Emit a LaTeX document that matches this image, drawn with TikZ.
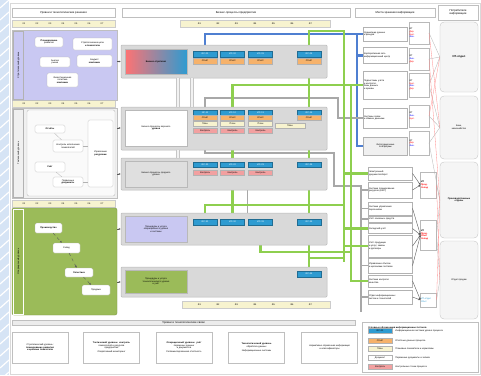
\documentclass[tikz,border=0pt]{standalone}
\usepackage{fontspec}
\setmainfont{Liberation Sans}
\usetikzlibrary{arrows.meta, positioning, calc}
\pgfdeclarelayer{background}
\pgfsetlayers{background,main}

\definecolor{bandgray}{HTML}{D9D9D9}
\definecolor{lavend}{HTML}{C9C8F2}
\definecolor{leaf}{HTML}{9BBB59}
\definecolor{paleyel}{HTML}{F7F3CF}
\definecolor{tagblue}{HTML}{2E9BD1}
\definecolor{tagorng}{HTML}{F6B26B}
\definecolor{tagpink}{HTML}{F2A0A0}
\definecolor{flowb}{HTML}{4F7FD1}
\definecolor{flowg}{HTML}{8ECF4F}
\definecolor{flowk}{HTML}{A8A8A8}
\definecolor{edgeblue}{HTML}{D6E4F5}

\newcommand{\ftxt}{\fontsize{2.3}{2.7}\selectfont}
\newcommand{\fhdr}{\fontsize{2.8}{3.2}\selectfont}

\begin{document}
\begin{tikzpicture}[
    x=1pt, y=-1pt,
    sz/.style 2 args={minimum width=#1pt, minimum height=#2pt},
    cell/.style={draw=gray!60, line width=0.3pt, inner sep=0.4pt, align=center, font=\ftxt},
    hdr/.style={cell, fill=white, draw=gray!50, font=\fhdr},
    yrow/.style={cell, fill=paleyel, draw=gray!40},
    panel/.style={draw=gray!50, line width=0.4pt},
    strip/.style={draw=gray!60, line width=0.3pt, font=\ftxt, rotate=90, inner sep=0pt},
    wbox/.style={cell, fill=white, rounded corners=1.5pt},
    band/.style={draw=gray!55, fill=bandgray, line width=0.5pt, rounded corners=1pt},
    lbl/.style={cell, draw=gray!55, line width=0.4pt},
    tagb/.style={cell, fill=tagblue, text=white, sz={24}{6}, draw=tagblue!70!black},
    tago/.style={cell, fill=tagorng, sz={24}{6}},
    tagp/.style={cell, fill=tagpink, sz={24}{5}},
    tagl/.style={cell, fill=paleyel, sz={24}{5}},
    flowblue/.style={flowb, line width=2.4pt},
    flowgreen/.style={flowg, line width=2.4pt},
    flowgray/.style={flowk, line width=1.8pt},
    fat/.style={draw=gray!45, double=gray!10, double distance=2.2pt, line width=0.5pt},
    arr/.style={-{Latex[length=2pt,width=2pt]}, gray!70!black, line width=0.4pt},
    feed/.style={gray!60, line width=0.3pt},
    feedr/.style={red!45, line width=0.3pt},
    rbox/.style={cell, fill=white, text width=43pt, align=left},
    qtag/.style={cell, fill=white, draw=gray!55, align=left, text width=19pt},
    fpanel/.style={cell, fill=gray!8, draw=gray!50, rounded corners=4pt, sz={38}{10}},
    dbox/.style={cell, fill=white, draw=gray!50, sz={56}{31}, text width=52pt}
  ]
  \useasboundingbox (0,0) rectangle (481,375);
  \begin{pgfonlayer}{background}
    \fill[white] (0,0) rectangle (481,375);
    \fill[edgeblue] (0,0) rectangle (9,375);
    \foreach \k in {0,12,...,372} \draw[white, line width=1.2pt] (0,\k+8) -- (9,\k);
    \draw[gray!30, line width=0.5pt] (10,3) rectangle (480,374);
  \end{pgfonlayer}

  % Headers
  \node[hdr, sz={103}{9}] (hlev) at (63.5,12.5) {Уровни и технологические решения};
  \node[hdr, sz={228}{9}] (hproc) at (236,12.5) {Бизнес-процессы предприятия};
  \node[hdr, sz={80}{9}] (hstore) at (395,12.5) {Места хранения информации};
  \node[hdr, sz={40}{15}] (huser) at (458,12.5) {Потребители\\информации};

  % Yellow rows
  \node[yrow, sz={103}{7}] (yl1) at (63.5,23.5) {};
  \node[yrow, sz={103}{7}] (yl2) at (63.5,104) {};
  \node[yrow, sz={103}{7}] (yl3) at (63.5,204) {};
  \node[yrow, sz={150}{7}] (ym1) at (255,23.5) {};
  \node[yrow, sz={148}{7}] (ym2) at (256,305) {};
  \foreach \k in {1,...,7} {
    \node[font=\ftxt] (ma\k) at (11+13*\k,23.5) {0\k};
    \node[font=\ftxt] (mb\k) at (11+13*\k,104) {0\k};
    \node[font=\ftxt] (mc\k) at (11+13*\k,204) {0\k};
    \node[font=\ftxt] (md\k) at (181+18.5*\k,23.5) {Ф\k};
    \node[font=\ftxt] (me\k) at (181+18.5*\k,305) {Ф\k};
  }

  % Left panels
  \node[panel, fill=lavend, sz={105}{70}] (lp1) at (64.5,65) {};
  \node[strip, fill=lavend, sz={68}{10}] (ls1) at (18.5,65) {Стратегический уровень};
  \node[panel, fill=gray!12, sz={105}{90}] (lp2) at (64.5,153) {};
  \node[panel, fill=gray!4, rounded corners=2pt, sz={88}{86}] (lp2in) at (71,153) {};
  \node[strip, fill=gray!12, sz={88}{10}] (ls2) at (18.5,153) {Тактический уровень};
  \node[panel, fill=leaf, draw=leaf!80!black, rounded corners=2pt, sz={105}{107}] (lp3) at (64.5,261.5) {};
  \node[strip, fill=leaf, draw=white, sz={105}{10}] (ls3) at (18.5,261.5) {Операционный уровень};

  % Panel 1 boxes
  \node[wbox, sz={28}{10}] (a1) at (49,42) {\bfseries Планирование\\развития};
  \node[wbox, sz={39}{12}] (a2) at (92.5,44) {Стратегические цели\\\bfseries и показатели};
  \node[wbox, sz={30}{10}] (a3) at (55,62) {Анализ\\рынка};
  \node[wbox, sz={35}{12}] (a4) at (94.5,61) {Бюджет\\\bfseries компании};
  \node[wbox, sz={31}{14}] (a5) at (62.5,80) {Инвестиционная\\политика\\\bfseries компании};

  % Panel 2 boxes
  \node[wbox, sz={30}{8}] (c1) at (50,129) {\bfseries Отчёты};
  \node[wbox, sz={30}{12}] (c2) at (68,146) {Контроль исполнения\\показателей};
  \node[wbox, sz={30}{10}] (c3) at (50,167) {\bfseries Учёт};
  \node[wbox, sz={30}{10}] (c4) at (68,182) {Первичные\\\bfseries документы};
  \node[wbox, sz={25}{67}] (c5) at (100.5,153.5) {Управление\\\bfseries ресурсами};
  \draw[feed] (c1) -- (c2);
  \draw[feed] (c3) -- (c4);
  \draw[feed] (c2.east) -- (c2.east -| c5.west);
  \draw[feed] (c4.east) -- (c4.east -| c5.west);

  % Panel 3 boxes
  \node[wbox, sz={27}{10}] (e1) at (48.5,228) {\bfseries Производство};
  \node[wbox, sz={27}{10}] (e2) at (66.5,248) {Склад};
  \node[wbox, sz={28}{9}] (e3) at (79,272.5) {\bfseries Логистика};
  \node[wbox, sz={28}{10}] (e4) at (96,290) {Продажи};
  \draw[arr, dashed] (e1) -- (e2);
  \draw[arr, dashed] (e2) -- (e3);
  \draw[arr, dashed] (e3) -- (e4);

  % Process bands
  \node[band, sz={206}{33}] (b1) at (224,61.5) {};
  \node[band, sz={206}{43}] (b2) at (224,128.5) {};
  \node[band, sz={206}{32}] (b3) at (224,174) {};
  \node[band, sz={206}{32}] (b4) at (224,229) {};
  \node[band, sz={206}{30}] (b5) at (224,282) {};

  \node[lbl, left color=red!55, right color=tagblue, sz={62}{25}] (L1) at (156,61.5) {\bfseries Бизнес-стратегия};
  \node[lbl, fill=white, sz={62}{36}] (L2) at (156,128) {Бизнес-процессы верхнего\\\bfseries уровня};
  \node[lbl, fill=gray!25, sz={62}{26}] (L3) at (156,174) {Бизнес-процессы среднего\\уровня};
  \node[lbl, fill=lavend, sz={62}{26}] (L4) at (156,229) {Процедуры и услуги\\операционного уровня\\и системы};
  \node[lbl, fill=leaf, sz={62}{23}] (L5) at (156,281.5) {Процедуры и услуги\\технологического уровня\\и учёт};

  % Tags inside bands
  \foreach \c/\x in {1/205,2/232.5,3/260.5,4/309} {
    \node[tagb] (t1\c) at (\x,54) {ИС-0\c};
    \node[tago] (o1\c) at (\x,61) {Отчёт};
    \node[tagb, sz={24}{5}] (t2\c) at (\x,112.5) {ИС-1\c};
    \node[tago, sz={24}{5}] (o2\c) at (\x,118) {Отчёт};
    \node[tagb, sz={24}{5}] (t3\c) at (\x,164.5) {ИС-2\c};
    \node[tagb] (t4\c) at (\x,222) {ИС-3\c};
  }
  \foreach \c/\x in {1/205,2/232.5,3/260.5} {
    \node[tagl] (l2\c) at (\x,123.5) {План};
    \node[tagp] (p2\c) at (\x,131) {Контроль};
    \node[tagp] (p3\c) at (\x,172.5) {Контроль};
  }
  \node[tagl, sz={30}{5}] (x24) at (290,125.5) {План};
  \node[tagb] (t54) at (309,274) {ИС-44};

  % Left arrows into bands
  \draw[arr] (lp1.east |- b1.west) -- (b1.west);
  \draw[arr] (lp2.east |- L2.west) -- (b2.west |- L2.west);
  \draw[arr] (lp2.east |- b3.west) -- (b3.west);
  \draw[arr] (lp3.east |- b4.west) -- (b4.west);
  \draw[arr] (lp3.east |- b5.west) -- (b5.west);

  % Fat links between bands
  \draw[fat] ([xshift=-46pt]b1.south) -- ([xshift=-46pt]b2.north);
  \draw[fat] ([xshift=-32pt]b1.south) -- ([xshift=-32pt]b2.north);
  \draw[fat] ([xshift=-46pt]b2.south) -- ([xshift=-46pt]b3.north);

  % Storage boxes
  \node[rbox, minimum height=14pt] (r1) at (385.5,34) {Хранилище данных\\и фондов};
  \node[rbox, minimum height=16pt] (r2) at (385.5,55.5) {Корпоративная сеть\\информационный центр};
  \node[rbox, minimum height=28pt] (r3) at (385.5,85) {Подсистемы учёта\\и контроля,\\базы данных\\и архивы};
  \node[rbox, minimum height=20pt] (r4) at (385.5,118) {Системы связи\\и обмена данными};
  \node[rbox, fill=gray!12, minimum height=18pt, align=center] (r5) at (385.5,146) {Интеграционные\\платформы};
  \node[rbox, minimum height=13pt] (r6) at (390.5,173.5) {Электронный\\документооборот};
  \node[rbox, minimum height=16pt] (r7) at (390.5,190) {Система планирования\\ресурсов (ERP)};
  \node[rbox, minimum height=13pt] (r8) at (390.5,208.5) {Система управления\\персоналом};
  \node[rbox, minimum height=6pt] (r9) at (390.5,219) {Учёт основных средств};
  \node[rbox, minimum height=10pt] (r10) at (390.5,228.5) {Складской учёт};
  \node[rbox, minimum height=22pt] (r11) at (390.5,246) {Учёт продукции\\и услуг, заказы\\и договоры};
  \node[rbox, minimum height=15pt] (r12) at (390.5,265.5) {Управление сбытом\\и цепочками поставок};
  \node[rbox, minimum height=12pt] (r13) at (390.5,281) {Система контроля\\качества};
  \node[rbox, minimum height=14pt] (r14) at (390.5,297) {Отдел информационных\\систем и технологий};

  % Receiver tags
  \node[qtag, minimum height=22pt] (q1) at (419,33) {ИТ\\{\color{red}Дир.}\\{\color{red}Бухг.}\\{\color{blue}Фин.}};
  \node[qtag, minimum height=22pt] (q2) at (419,59) {ИТ\\{\color{blue}Фин.}\\{\color{red}Дир.}};
  \node[qtag, minimum height=24pt] (q3) at (419,85) {ИТ\\{\color{red}Бухг.}\\{\color{blue}Фин.}\\{\color{red}Дир.}};
  \node[qtag, minimum height=22pt] (q4) at (419,116) {ИТ\\{\color{blue}Фин.}\\{\color{red}Бухг.}};
  \node[qtag, minimum height=24pt] (q5) at (419,143) {ИТ\\{\color{red}Дир.}\\{\color{blue}Фин.}};
  \node[qtag, text width=15pt, minimum height=26pt] (q6) at (428.5,185) {\bfseries ИТ\\{\color{red}Прод.}\\{\color{red}Склад}};
  \node[qtag, text width=15pt, minimum height=30pt] (q7) at (428.5,235) {\bfseries ИТ\\{\color{red}Прод.}\\{\color{red}Сбыт}\\{\color{red}Склад}};
  \node[qtag, text width=15pt, minimum height=14pt] (q8) at (428.5,300) {{\color{tagblue}ИТ-отдел}\\{\color{tagblue}Сбыт}};

  % Consumers
  \node[fpanel, minimum height=70pt, font=\fhdr\bfseries] (p1) at (459,57) {ИТ-отдел};
  \node[fpanel, minimum height=63pt] (p2) at (459,127.5) {Банк,\\казначейство};
  \node[fpanel, minimum height=76pt, font=\ftxt\bfseries] (p3) at (459,200) {Производственные\\отделы};
  \node[fpanel, minimum height=78pt] (p4) at (459,280) {Отдел продаж};

  \foreach \a/\b in {q1/p1, q2/p1, q3/p1, q3/p2, q4/p2, q5/p2, q5/p3, q6/p3, q7/p3, q7/p4, q8/p4} \draw[feed] (\a.east) -- (\b.west);
  \foreach \a/\b in {q1/p2, q2/p3, q4/p1, q6/p4, q8/p3} \draw[feedr] (\a.east) -- (\b.west);
  \foreach \a/\b in {r6/q6, r7/q6, r8/q7, r10/q7, r11/q7, r12/q7, r13/q8, r14/q8} \draw[arr] (\a.east) -- (\b.west);

  % Flows
  \begin{pgfonlayer}{background}
    \coordinate (busb) at (357,34);
    \coordinate (busg1) at (344,31);
    \coordinate (busg1end) at (344,262);
    \coordinate (busg2) at (351,85);
    \coordinate (g205) at (344,205);
    \coordinate (g252) at (351,252);
    \coordinate (g258) at (344,258);
    \coordinate (k1) at (334,153);
    \coordinate (k2) at (361,186);
    \coordinate (k3) at (361,312);
    \coordinate (k4) at (338,98);
    \draw[flowblue] (t11.north) |- (r1.west);
    \draw[flowblue] (busb) |- (r5.west);
    \foreach \r in {r2, r4} \draw[flowblue] (busb |- \r.west) -- (\r.west);
    \draw[flowgray] (t21.north) |- (k4) |- (r4.west);
    \draw[flowgray] (t21.south) |- (k1) |- (k2) -- (k3);
    \foreach \r in {r7, r8, r9, r12, r14} \draw[flowgray] (k2 |- \r.west) -- (\r.west);
    \draw[flowgray] ([xshift=-13pt]t33.south) -- ([xshift=-13pt]t43.north);
    \draw[flowgreen] (t14.north) |- (busg1) -- (busg1end);
    \draw[flowgreen] (t14.south) -- (t54.north);
    \draw[flowgreen] (t22.north) |- (busg2) |- (r13.west);
    \draw[flowgreen] (t22.south) -- (t42.north);
    \draw[flowgreen] (t41.north) |- (g205);
    \draw[flowgreen] (t43.south) |- (g252);
    \draw[flowgreen] (t44.south) |- (g258);
    \foreach \r in {r3, r6, r10, r11} \draw[flowgreen] (busg1 |- \r.west) -- (\r.west);
  \end{pgfonlayer}

  % Bottom section
  \node[hdr, fill=gray!15, sz={343}{5}] (hbot) at (183.5,322.5) {Уровни и технологические связи};
  \node[dbox] (d1) at (40,347.5) {Стратегический уровень:\\\bfseries планирование развития\\\bfseries и целевые показатели};
  \node[dbox] (d2) at (111.5,347.5) {{\bfseries Тактический уровень: контроль}\\показателей и ресурсов\\предприятия\\[1pt]Оперативный мониторинг};
  \node[dbox] (d3) at (184,347.5) {{\bfseries Операционный уровень: учёт}\\первичных данных\\и документов\\[1pt]Регламентированная отчётность};
  \node[dbox] (d4) at (256.5,347.5) {{\bfseries Технологический уровень}\\обработка данных\\[1pt]Информационные системы};
  \node[dbox] (d5) at (329.5,347.5) {Нормативно-справочная информация\\и классификаторы};

  % Legend
  \node[cell, fill=white, draw=gray!50, sz={116}{50}] (legend) at (420,347) {};
  \node[font=\ftxt\bfseries, below right=1pt and 3pt of legend.north west] (legtitle) {Условные обозначения информационных потоков};
  \foreach \c/\y/\s/\t [count=\n] in {tagblue/330.5/ИС-01/Информационная система уровня процесса,
      tagorng/340.5/Отчёт/Отчётные данные процесса,
      paleyel/349/План/Плановые показатели и нормативы,
      white/357.5/Документ/Первичные документы и записи,
      tagpink/366.5/Контроль/Контрольные точки процесса} {
    \node[cell, fill=\c, sz={24}{5}] (sw\n) at (380,\y) {\s};
    \node[font=\ftxt, right=3pt of sw\n, text width=70pt, align=left, inner sep=0pt] (swt\n) {\t};
  }
\end{tikzpicture}
\end{document}
